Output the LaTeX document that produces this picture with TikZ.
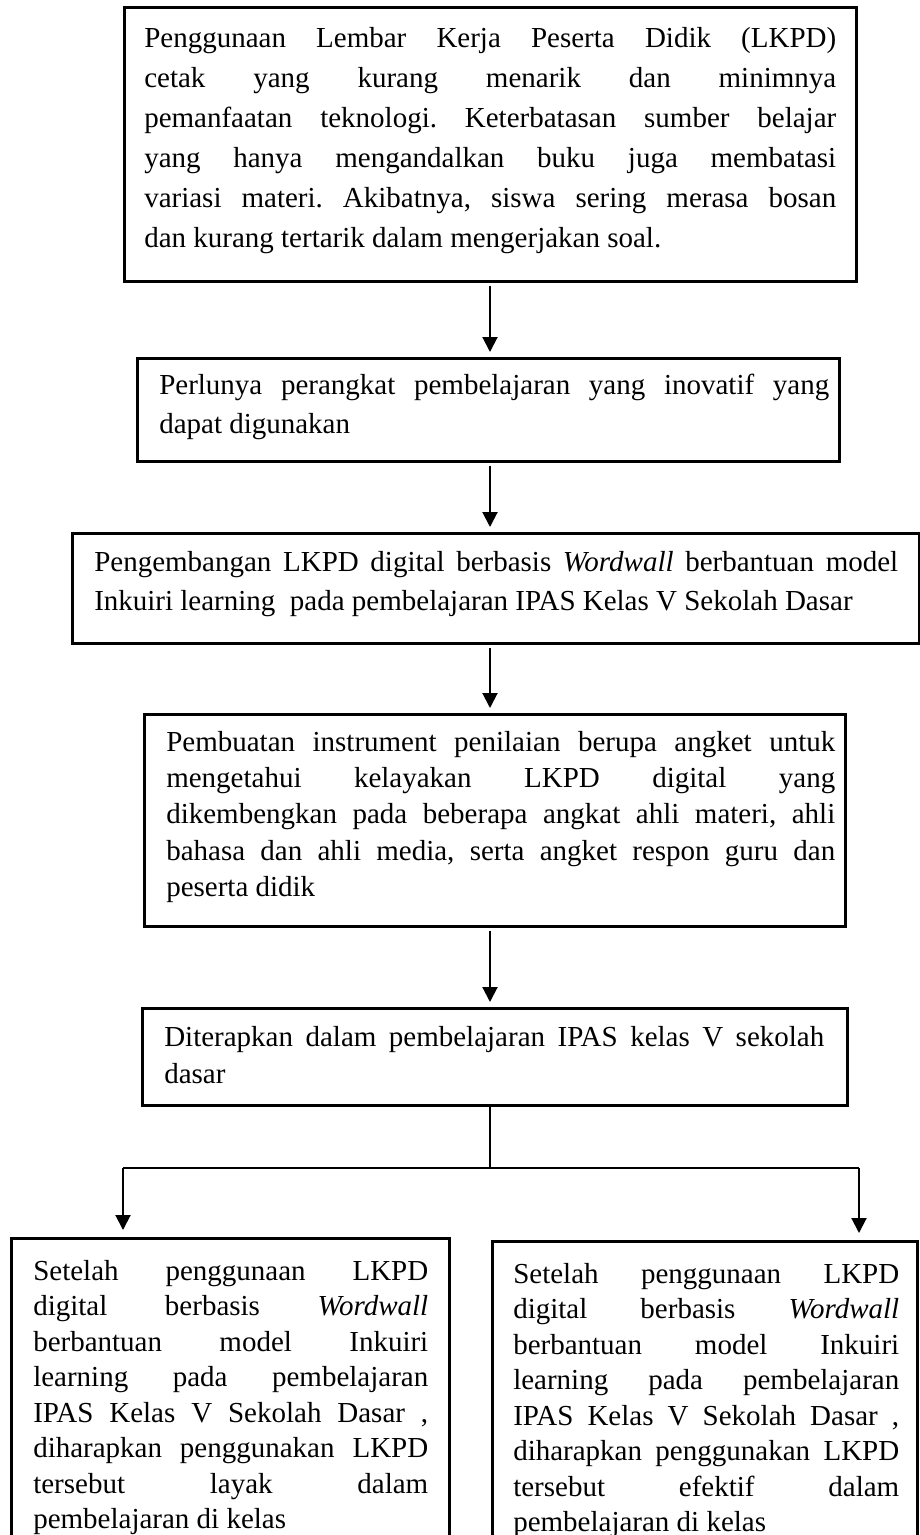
\documentclass[tikz,border=0pt]{standalone}
\usepackage{fontspec}
\setmainfont{Liberation Serif}
\usetikzlibrary{arrows.meta}
% kotak teks rata kiri-kanan dengan jarak tepi kiri/kanan sendiri
\newcommand\isi[4]{\parbox[t]{#1pt}{\leftskip=#2pt\rightskip=#3pt\parfillskip=0pt plus 1fil\parindent=0pt\frenchspacing\tolerance=10000\hbadness=10000\hyphenpenalty=10000\exhyphenpenalty=10000\relax #4}}

\begin{document}
\begin{tikzpicture}[x=1pt,y=1pt]
    \tikzstyle{kotak}=[draw, line width=2.5pt, inner sep=0pt, anchor=north west]
    \tikzstyle{panah}=[-{Triangle[length=15pt,width=15pt]}, line width=2pt, shorten >=5pt, shorten <=3pt]
    \tikzstyle{garis}=[line width=1.2pt]
    \useasboundingbox (0,0) rectangle (919,-1535);
    \coordinate (sumbu) at (490,0);
    \coordinate (cabangkiri) at (123,-1168);
    \coordinate (cabangkanan) at (859,-1168);
    \node[kotak, text height=40pt, text depth=234pt, font=\fontsize{29}{40}\selectfont] (masalah) at (123,-6)
      {\isi{732}{20}{20}{Penggunaan Lembar Kerja Peserta Didik (LKPD)\linebreak cetak yang kurang menarik dan minimnya\linebreak pemanfaatan teknologi. Keterbatasan sumber belajar\linebreak yang hanya mengandalkan buku juga membatasi\linebreak variasi materi. Akibatnya, siswa sering merasa bosan\linebreak dan kurang tertarik dalam mengerjakan soal.}};
    \node[kotak, text height=36pt, text depth=67pt, font=\fontsize{29}{39}\selectfont] (kebutuhan) at (136,-357)
      {\isi{702}{22}{10}{Perlunya perangkat pembelajaran yang inovatif yang\linebreak dapat digunakan}};
    \node[kotak, text height=38pt, text depth=72pt, font=\fontsize{29}{39}\selectfont] (pengembangan) at (71,-532)
      {\isi{847}{22}{21}{Pengembangan LKPD digital berbasis \textit{Wordwall} berbantuan model\linebreak Inkuiri learning\ \ pada pembelajaran IPAS Kelas V Sekolah Dasar}};
    \node[kotak, text height=37pt, text depth=175pt, font=\fontsize{29}{36.3}\selectfont] (instrumen) at (143,-713)
      {\isi{701}{22}{10}{Pembuatan instrument penilaian berupa angket untuk\linebreak mengetahui kelayakan LKPD digital yang\linebreak dikembengkan pada beberapa angkat ahli materi, ahli\linebreak bahasa dan ahli media, serta angket respon guru dan\linebreak peserta didik}};
    \node[kotak, text height=38pt, text depth=59pt, font=\fontsize{29}{37}\selectfont] (penerapan) at (141,-1007)
      {\isi{705}{22}{23}{Diterapkan dalam pembelajaran IPAS kelas V sekolah\linebreak dasar}};
    \node[kotak, text height=42pt, text depth=261pt, font=\fontsize{29}{35.5}\selectfont] (layak) at (10,-1237)
      {\isi{438}{22}{21}{Setelah penggunaan LKPD\linebreak digital berbasis \textit{Wordwall}\linebreak berbantuan model Inkuiri\linebreak learning pada pembelajaran\linebreak IPAS Kelas V Sekolah Dasar ,\linebreak diharapkan penggunakan LKPD\linebreak tersebut layak dalam\linebreak pembelajaran di kelas}};
    \node[kotak, text height=42pt, text depth=258pt, font=\fontsize{29}{35.5}\selectfont] (efektif) at (491,-1240)
      {\isi{425}{21}{18}{Setelah penggunaan LKPD\linebreak digital berbasis \textit{Wordwall}\linebreak berbantuan model Inkuiri\linebreak learning pada pembelajaran\linebreak IPAS Kelas V Sekolah Dasar ,\linebreak diharapkan penggunakan LKPD\linebreak tersebut efektif dalam\linebreak pembelajaran di kelas}};
    % alur
    \draw[panah] (masalah.south -| sumbu) -- (kebutuhan.north -| sumbu);
    \draw[panah] (kebutuhan.south -| sumbu) -- (pengembangan.north -| sumbu);
    \draw[panah] (pengembangan.south -| sumbu) -- (instrumen.north -| sumbu);
    \draw[panah] (instrumen.south -| sumbu) -- (penerapan.north -| sumbu);
    \draw[garis] (penerapan.south -| sumbu) -- (cabangkiri -| sumbu);
    \draw[garis] (cabangkiri) -- (cabangkanan);
    \draw[panah, shorten <=0pt, shorten >=7pt] (cabangkiri) -- (cabangkiri |- layak.north);
    \draw[panah, shorten <=0pt, shorten >=7pt] (cabangkanan) -- (cabangkanan |- efektif.north);
\end{tikzpicture}
\end{document}
